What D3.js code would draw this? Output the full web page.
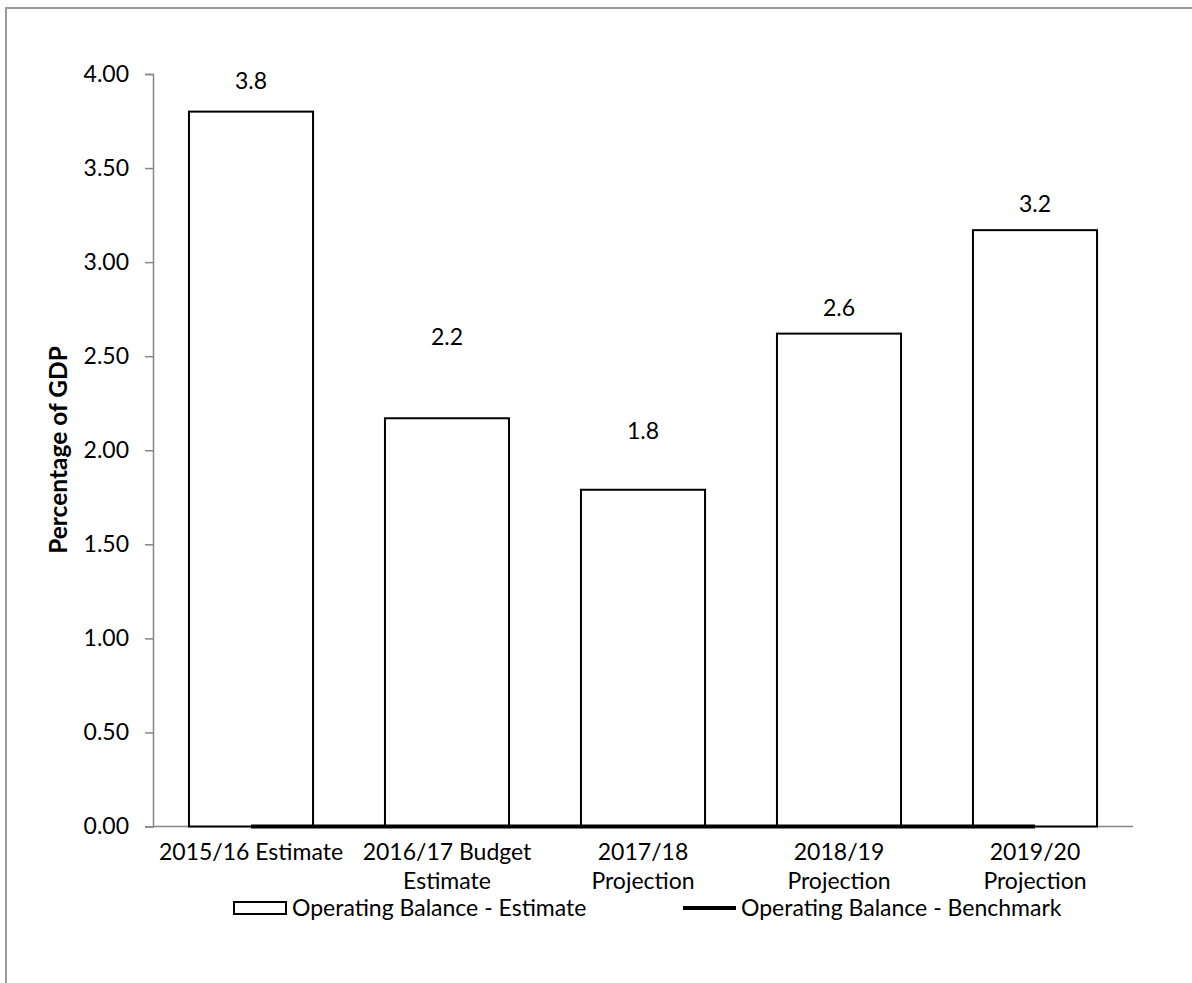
<!DOCTYPE html>
<html>
<head>
<meta charset="utf-8">
<script src="https://cdn.jsdelivr.net/npm/d3@7"></script>
<style>
  html, body { margin: 0; padding: 0; background: #fff; }
  svg { display: block; font-family: Lato, "Open Sans", sans-serif; }
</style>
</head>
<body>
<svg id="chart" width="1192" height="983"></svg>
<script>
// Operating balance as a share of GDP
const categories = [
  ["2015/16 Estimate"],
  ["2016/17 Budget", "Estimate"],
  ["2017/18", "Projection"],
  ["2018/19", "Projection"],
  ["2019/20", "Projection"]
];
const estimate = [3.80, 2.17, 1.79, 2.62, 3.17];
const benchmark = [0, 0, 0, 0, 0];
const yTicks = [0, 0.5, 1, 1.5, 2, 2.5, 3, 3.5, 4];
const seriesNames = ["Operating Balance - Estimate", "Operating Balance - Benchmark"];
const yTitle = "Percentage of GDP";

// vertical gap between each bar top and its value label
const labelLift = [31, 81, 59, 26, 26];

const svg = d3.select("#chart");
const fontSize = 23;

// outer frame (runs off the right and bottom edges)
svg.append("rect")
  .attr("x", 6).attr("y", 8)
  .attr("width", 1300).attr("height", 1100)
  .attr("fill", "none").attr("stroke", "#9a9a9a").attr("stroke-width", 2);

const plot = { left: 153, right: 1133, top: 74, bottom: 826.5 };

const x = d3.scaleBand()
  .domain(d3.range(categories.length))
  .range([plot.left, plot.right])
  .paddingInner(0.367)
  .paddingOuter(0.1835);

const y = d3.scaleLinear().domain([0, 4]).range([plot.bottom, plot.top]);

// y axis
const yAxis = svg.append("g")
  .attr("transform", `translate(${plot.left},0)`)
  .call(d3.axisLeft(y).tickValues(yTicks).tickFormat(d3.format(".2f")).tickSize(8).tickPadding(16));
yAxis.select(".domain").attr("stroke", "#868686").attr("stroke-width", 1.5);
yAxis.selectAll(".tick line").attr("stroke", "#868686").attr("stroke-width", 1.5);
yAxis.selectAll(".tick text")
  .attr("font-size", fontSize).attr("fill", "#000")
  .attr("font-family", "Lato, sans-serif");

// x axis baseline
svg.append("line")
  .attr("x1", plot.left).attr("x2", plot.right)
  .attr("y1", y(0)).attr("y2", y(0))
  .attr("stroke", "#868686").attr("stroke-width", 1.5);

// category labels
const xl = svg.append("g");
categories.forEach((lines, i) => {
  const t = xl.append("text")
    .attr("x", x(i) + x.bandwidth() / 2)
    .attr("y", 860)
    .attr("text-anchor", "middle")
    .attr("font-size", fontSize);
  lines.forEach((ln, j) => {
    t.append("tspan").attr("x", x(i) + x.bandwidth() / 2).attr("dy", j === 0 ? 0 : 29).text(ln);
  });
});

// bars
svg.append("g").selectAll("rect")
  .data(estimate)
  .join("rect")
  .attr("x", (d, i) => x(i))
  .attr("y", d => y(d))
  .attr("width", x.bandwidth())
  .attr("height", d => y(0) - y(d))
  .attr("fill", "#fff")
  .attr("stroke", "#000")
  .attr("stroke-width", 2);

// value labels
svg.append("g").selectAll("text")
  .data(estimate)
  .join("text")
  .attr("x", (d, i) => x(i) + x.bandwidth() / 2)
  .attr("y", (d, i) => y(d) - labelLift[i])
  .attr("dy", "0.35em")
  .attr("text-anchor", "middle")
  .attr("font-size", fontSize)
  .text(d => d3.format(".1f")(d));

// benchmark line
const line = d3.line()
  .x((d, i) => x(i) + x.bandwidth() / 2)
  .y(d => y(d));
svg.append("path")
  .datum(benchmark)
  .attr("d", line)
  .attr("fill", "none")
  .attr("stroke", "#000")
  .attr("stroke-width", 4);

// y axis title
svg.append("text")
  .attr("transform", `translate(67,450) rotate(-90)`)
  .attr("text-anchor", "middle")
  .attr("font-size", 24.5)
  .attr("font-weight", "bold")
  .text(yTitle);

// legend
const lg = svg.append("g").attr("transform", "translate(0,908)");
lg.append("rect")
  .attr("x", 234).attr("y", -6).attr("width", 52).attr("height", 12)
  .attr("fill", "#fff").attr("stroke", "#000").attr("stroke-width", 2);
lg.append("text")
  .attr("x", 292).attr("dy", "0.35em")
  .attr("font-size", fontSize)
  .text(seriesNames[0]);
lg.append("line")
  .attr("x1", 683).attr("x2", 736).attr("y1", 0).attr("y2", 0)
  .attr("stroke", "#000").attr("stroke-width", 4);
lg.append("text")
  .attr("x", 741).attr("dy", "0.35em")
  .attr("font-size", fontSize)
  .text(seriesNames[1]);
</script>
</body>
</html>
